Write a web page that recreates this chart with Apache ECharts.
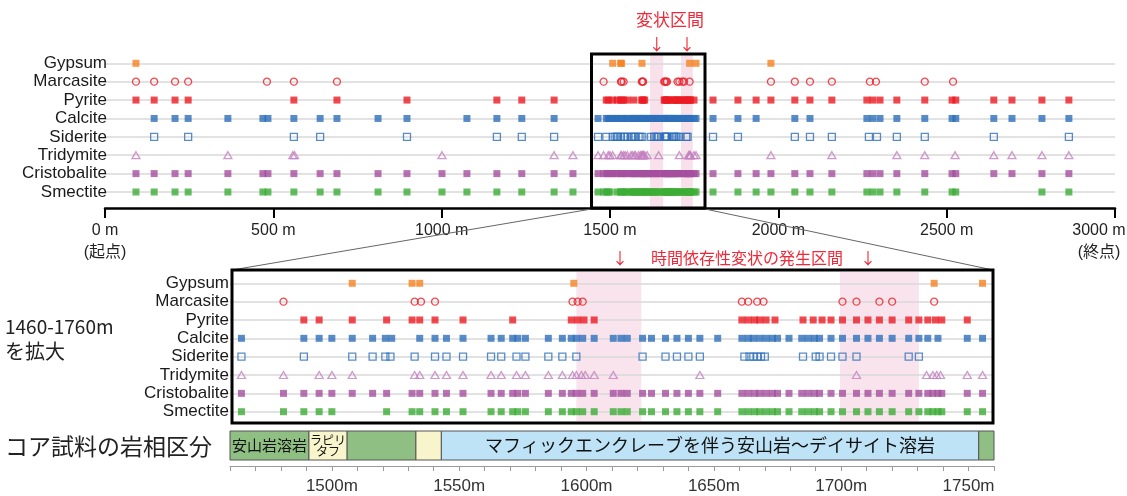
<!DOCTYPE html>
<html>
<head>
<meta charset="utf-8">
<script src="https://cdn.jsdelivr.net/npm/echarts@6/dist/echarts.min.js"></script>
<style>
  html, body { margin: 0; padding: 0; background: #fff; }
  #chart { width: 1127px; height: 496px; }
</style>
</head>
<body>
<div id="chart"></div>
<script>
// Minerals, listed top to bottom
const minerals = ['Gypsum', 'Marcasite', 'Pyrite', 'Calcite', 'Siderite', 'Tridymite', 'Cristobalite', 'Smectite'];

// Whole borehole (0–3000 m): detections outside the enlarged section, depth in m
const wideGypsum = [92, 1978];
const wideMarcasite = [92, 146, 208, 247, 481, 561, 689, 1978, 2049, 2094, 2159, 2272, 2290, 2435, 2519];
const widePyrite = [92, 146, 208, 247, 561, 689, 897, 1164, 1238, 1334, 1806, 1880, 1934, 1978, 2049, 2094, 2159, 2263, 2281, 2302, 2352, 2435, 2516, 2527, 2640, 2694, 2783, 2863];
const wideCalcite = [146, 208, 247, 365, 469, 484, 561, 639, 689, 811, 897, 1075, 1164, 1238, 1334, 1806, 1880, 1934, 2049, 2094, 2263, 2281, 2302, 2352, 2435, 2516, 2527, 2640, 2694, 2783, 2863];
const wideSiderite = [146, 247, 561, 639, 897, 1164, 1238, 1334, 1806, 1880, 2049, 2094, 2159, 2269, 2293, 2352, 2435, 2640, 2863];
const wideTridymite = [92, 365, 558, 563, 1001, 1334, 1390, 1978, 2159, 2352, 2435, 2525, 2640, 2694, 2783, 2863];
const wideCristobalite = [92, 146, 208, 247, 365, 469, 484, 561, 639, 689, 811, 897, 1001, 1075, 1164, 1238, 1334, 1390, 1806, 1880, 1934, 1978, 2049, 2094, 2159, 2263, 2281, 2302, 2352, 2435, 2516, 2527, 2640, 2694, 2783, 2863];
const wideSmectite = [92, 146, 208, 247, 365, 469, 484, 561, 639, 689, 811, 897, 1001, 1075, 1164, 1238, 1334, 1390, 1806, 1880, 1934, 1978, 2049, 2094, 2159, 2263, 2281, 2302, 2352, 2435, 2516, 2527, 2783, 2863];

// Enlarged section 1460–1760 m, depth in m
const zoomGypsum = [1508, 1531.5, 1534.5, 1595, 1736.5, 1755.5];
const zoomMarcasite = [1481, 1532.5, 1535, 1540.5, 1594.5, 1596.5, 1598.5, 1661, 1663.5, 1667, 1669.5, 1700.5, 1706, 1715, 1720, 1736.5];
const zoomPyrite = [1489, 1495, 1508, 1521.5, 1531.5, 1534.5, 1540.5, 1551.5, 1571, 1594, 1596.5, 1599, 1603, 1661, 1663.5, 1666, 1668, 1670.5, 1674, 1685, 1689, 1692.5, 1696, 1700.5, 1706, 1710.5, 1715, 1720, 1726.5, 1730.5, 1734, 1737, 1739.5, 1749.5];
const zoomCalcite = [1464.5, 1489, 1495, 1500, 1508, 1516, 1521, 1523.5, 1534.5, 1540.5, 1545, 1551.5, 1562.5, 1566.5, 1571, 1573, 1576, 1585, 1590.5, 1594, 1596, 1598.5, 1603, 1610.5, 1613.5, 1616, 1622, 1625.5, 1631, 1635.5, 1640, 1644.5, 1651.5, 1661, 1663.5, 1665.5, 1668, 1670.5, 1673, 1675, 1679.5, 1684.5, 1687, 1689.5, 1691.5, 1696, 1700.5, 1706, 1710.5, 1715, 1720, 1726.5, 1730.5, 1734, 1738, 1749.5, 1755.5];
const zoomSiderite = [1464.5, 1489, 1508, 1516, 1521, 1523, 1532.5, 1540.5, 1545, 1551.5, 1562.5, 1566.5, 1572.5, 1576, 1585, 1590.5, 1596, 1622, 1631, 1635.5, 1640, 1644.5, 1662, 1664, 1665.5, 1667, 1668.5, 1670, 1685, 1690, 1691.5, 1696, 1700.5, 1706, 1726.5, 1730.5];
const zoomTridymite = [1464.5, 1481, 1495, 1500, 1508, 1532.5, 1534.5, 1540.5, 1545, 1551.5, 1562.5, 1566.5, 1572.5, 1576, 1585, 1590.5, 1594.5, 1596, 1598, 1599.5, 1603, 1610.5, 1644.5, 1706, 1733.5, 1736, 1737.5, 1739, 1749.5, 1755.5];
const zoomCristobalite = [1464.5, 1481, 1489, 1495, 1500, 1508, 1516, 1521.5, 1531.5, 1534.5, 1540.5, 1545, 1551.5, 1562.5, 1566.5, 1571, 1573, 1576, 1585, 1590.5, 1594, 1596, 1598.5, 1603, 1610.5, 1613.5, 1616, 1622, 1625.5, 1631, 1635.5, 1640, 1644.5, 1651.5, 1661, 1663.5, 1666, 1668, 1670.5, 1673, 1675, 1679.5, 1684.5, 1687, 1689.5, 1691.5, 1696, 1700.5, 1706, 1710.5, 1715, 1720, 1726.5, 1730.5, 1734, 1736, 1738, 1739.5, 1749.5, 1755.5];
const zoomSmectite = [1464.5, 1481, 1489, 1495, 1500, 1521.5, 1531.5, 1534.5, 1540.5, 1545, 1551.5, 1562.5, 1566.5, 1571, 1573, 1576, 1585, 1590.5, 1594, 1596, 1598.5, 1603, 1610.5, 1613.5, 1616, 1622, 1625.5, 1631, 1635.5, 1640, 1644.5, 1651.5, 1661, 1663.5, 1666, 1668, 1670.5, 1673, 1675, 1679.5, 1684.5, 1687, 1689.5, 1691.5, 1696, 1700.5, 1706, 1710.5, 1715, 1720, 1726.5, 1730.5, 1734, 1736, 1738, 1739.5, 1749.5, 1755.5];

// Deformation intervals (m)
const wideBands = [[1619, 1658], [1711, 1746]];
const zoomBands = [[1596, 1621.5], [1699.5, 1730.5]];

// Core lithology (m)
const lithoFrom = [1460, 1491, 1506, 1533, 1543, 1754];
const lithoTo = [1491, 1506, 1533, 1543, 1754, 1760];
const lithoKind = ['lava', 'tuff', 'lava', 'tuff', 'enclave', 'lava'];
const lithoLabel = ['安山岩溶岩', 'ラピリ\nタフ', '', '', 'マフィックエンクレーブを伴う安山岩～デイサイト溶岩', ''];

// Axis ticks
const wideTicks = { min: 0, max: 3000, step: 500 };
const zoomTicks = { min: 1460, max: 1760, step: 10, labelStep: 50 };

const wide = { Gypsum: wideGypsum, Marcasite: wideMarcasite, Pyrite: widePyrite, Calcite: wideCalcite, Siderite: wideSiderite, Tridymite: wideTridymite, Cristobalite: wideCristobalite, Smectite: wideSmectite };
const zoom = { Gypsum: zoomGypsum, Marcasite: zoomMarcasite, Pyrite: zoomPyrite, Calcite: zoomCalcite, Siderite: zoomSiderite, Tridymite: zoomTridymite, Cristobalite: zoomCristobalite, Smectite: zoomSmectite };

const markStyle = {
  Gypsum:       { symbol: 'rect', size: 7, color: '#f5821f' },
  Marcasite:    { symbol: 'circle', size: 7, color: '#ee1c25', hollow: true },
  Pyrite:       { symbol: 'rect', size: 7, color: '#ec1c24' },
  Calcite:      { symbol: 'rect', size: 7, color: '#2e6fbc' },
  Siderite:     { symbol: 'rect', size: 7, color: '#2e6fbc', hollow: true },
  Tridymite:    { symbol: 'triangle', size: [8, 7], color: '#c47fc0', hollow: true },
  Cristobalite: { symbol: 'rect', size: 7, color: '#a54f9e' },
  Smectite:     { symbol: 'rect', size: 7, color: '#3cac36' }
};
const lithoColor = { lava: '#8fbf83', tuff: '#f8f5cc', enclave: '#bfe3f6' };

const LATIN = '"Liberation Sans", Arial, "Noto Sans CJK JP", sans-serif';
const CJK = '"Noto Sans CJK JP", sans-serif';
const RED = '#ee2a3a';

const series = [];
minerals.forEach(m => {
  const st = markStyle[m];
  const base = {
    type: 'scatter', symbol: st.symbol, symbolSize: st.size, silent: true, animation: false,
    itemStyle: st.hollow ? { color: 'rgba(0,0,0,0)', borderColor: st.color, borderWidth: 1.3 } : { color: st.color }
  };
  series.push(Object.assign({}, base, { name: m, xAxisIndex: 0, yAxisIndex: 0, data: wide[m].concat(zoom[m]).map(d => [d, m]) }));
  series.push(Object.assign({}, base, { name: m + ' (1460-1760m)', xAxisIndex: 1, yAxisIndex: 1, data: zoom[m].map(d => [d, m]) }));
});

// Lithology strip
series.push({
  type: 'custom', xAxisIndex: 2, yAxisIndex: 2, silent: true, animation: false,
  data: lithoFrom.map((f, i) => [f, lithoTo[i], i]),
  renderItem(params, api) {
    const i = api.value(2);
    const s = api.coord([api.value(0), 0]);
    const e = api.coord([api.value(1), 0]);
    const cs = params.coordSys;
    const x0 = s[0], w = e[0] - s[0];
    const kids = [{
      type: 'rect', shape: { x: x0, y: cs.y, width: w, height: cs.height },
      style: { fill: lithoColor[lithoKind[i]], stroke: '#555', lineWidth: 1 }
    }];
    if (lithoLabel[i]) {
      const two = lithoLabel[i].indexOf('\n') >= 0;
      kids.push({
        type: 'text', x: x0 + w / 2, y: cs.y + cs.height / 2,
        style: {
          text: lithoLabel[i], align: 'center', verticalAlign: 'middle',
          font: (two ? '12px ' : (w > 200 ? '18px ' : '15px ')) + CJK,
          lineHeight: two ? 11 : undefined, fill: '#111'
        }
      });
    }
    return { type: 'group', children: kids };
  }
});

const catAxis = (grid, margin, offset) => ({
  type: 'category', gridIndex: grid, data: minerals, inverse: true, boundaryGap: false,
  offset: offset,
  axisLine: { show: false }, axisTick: { show: false },
  axisLabel: { interval: 0, margin: margin, fontSize: 17, fontFamily: LATIN, color: '#1a1a1a' },
  splitLine: { show: true, interval: 0, lineStyle: { color: '#d9d9d9', width: 1.5 } }
});

const option = {
  animation: false,
  backgroundColor: '#fff',
  grid: [
    { left: 105, top: 63.3, width: 1010, height: 128.7, outerBoundsMode: 'none', containLabel: false },
    { left: 230, top: 283.3, width: 764, height: 128.4, outerBoundsMode: 'none', containLabel: false },
    { left: 230, top: 431, width: 764, height: 29, outerBoundsMode: 'none', containLabel: false }
  ],
  xAxis: [
    {
      type: 'value', gridIndex: 0, min: wideTicks.min, max: wideTicks.max, interval: wideTicks.step,
      offset: 16,
      axisLine: { show: true, lineStyle: { color: '#000', width: 2.5 } },
      axisTick: { show: true, length: 10, lineStyle: { color: '#000', width: 2 } },
      splitLine: { show: false },
      axisLabel: {
        margin: 12, fontSize: 16, lineHeight: 22, fontFamily: LATIN, color: '#222',
        formatter: v => v === wideTicks.min ? v + ' m\n(起点)' : v === wideTicks.max ? '{r|' + v + ' m}\n{r|(終点)}' : v + ' m',
        rich: { r: { fontSize: 16, lineHeight: 22, fontFamily: LATIN, color: '#222', padding: [0, 32, 0, 0] } }
      }
    },
    { type: 'value', gridIndex: 1, min: zoomTicks.min, max: zoomTicks.max, show: false },
    {
      type: 'value', gridIndex: 2, min: zoomTicks.min, max: zoomTicks.max, interval: zoomTicks.step,
      offset: 6,
      axisLine: { show: true, lineStyle: { color: '#9a9a9a', width: 1 } },
      axisTick: { show: true, length: 5, lineStyle: { color: '#9a9a9a' } },
      splitLine: { show: false },
      axisLabel: {
        margin: 12, fontSize: 17, fontFamily: LATIN, color: '#333', showMinLabel: true, showMaxLabel: true,
        formatter: v => (v % zoomTicks.labelStep === 0 ? v + 'm' : '')
      }
    }
  ],
  yAxis: [
    catAxis(0, 0, -2),
    catAxis(1, 1, 0),
    { type: 'category', gridIndex: 2, data: ['core'], show: false }
  ],
  series: series
};

const chart = echarts.init(document.getElementById('chart'), null, { renderer: 'canvas' });
chart.setOption(option);

// Overlay: deformation bands, enlargement frames, leader lines and notes
const px = (axisIndex, v) => chart.convertToPixel({ xAxisIndex: axisIndex }, v);
const g = [];
wideBands.forEach(b => {
  const a = px(0, b[0]), c = px(0, b[1]);
  g.push({ type: 'rect', z: -1, shape: { x: a, y: 54, width: c - a, height: 154 }, style: { fill: '#f8e1ea' } });
  g.push({ type: 'text', z: 10, x: (a + c) / 2, y: 44, style: { text: '↓', font: '16px ' + CJK, fill: RED, align: 'center', verticalAlign: 'middle' } });
});
zoomBands.forEach(b => {
  const a = px(1, b[0]), c = px(1, b[1]);
  g.push({ type: 'rect', z: -1, shape: { x: a, y: 272, width: c - a, height: 149 }, style: { fill: '#f9e4ed' } });
});
g.push(
  { type: 'text', z: 10, x: 670, y: 20, style: { text: '変状区間', font: '17px ' + CJK, fill: RED, align: 'center', verticalAlign: 'middle' } },
  { type: 'text', z: 10, x: 620, y: 258, style: { text: '↓', font: '16px ' + CJK, fill: RED, align: 'center', verticalAlign: 'middle' } },
  { type: 'text', z: 10, x: 868, y: 258, style: { text: '↓', font: '16px ' + CJK, fill: RED, align: 'center', verticalAlign: 'middle' } },
  { type: 'text', z: 10, x: 747, y: 258, style: { text: '時間依存性変状の発生区間', font: '16px ' + CJK, fill: RED, align: 'center', verticalAlign: 'middle' } },
  { type: 'rect', z: 20, shape: { x: 591.5, y: 54, width: 113.5, height: 154 }, style: { fill: 'none', stroke: '#000', lineWidth: 3 } },
  { type: 'rect', z: 20, shape: { x: 232, y: 270, width: 761, height: 153 }, style: { fill: 'none', stroke: '#000', lineWidth: 3 } },
  { type: 'line', z: 5, shape: { x1: 591.5, y1: 209, x2: 232, y2: 270 }, style: { stroke: '#666', lineWidth: 1 } },
  { type: 'line', z: 5, shape: { x1: 705, y1: 209, x2: 993, y2: 270 }, style: { stroke: '#666', lineWidth: 1 } },
  { type: 'text', z: 10, x: 5, y: 327, style: { text: '1460-1760m', font: '19px ' + CJK, fill: '#222', align: 'left', verticalAlign: 'middle' } },
  { type: 'text', z: 10, x: 5, y: 351, style: { text: 'を拡大', font: '20px ' + CJK, fill: '#222', align: 'left', verticalAlign: 'middle' } },
  { type: 'text', z: 10, x: 5, y: 446, style: { text: 'コア試料の岩相区分', font: '23px ' + CJK, fill: '#222', align: 'left', verticalAlign: 'middle' } }
);
chart.setOption({ graphic: { elements: g } });
</script>
</body>
</html>
